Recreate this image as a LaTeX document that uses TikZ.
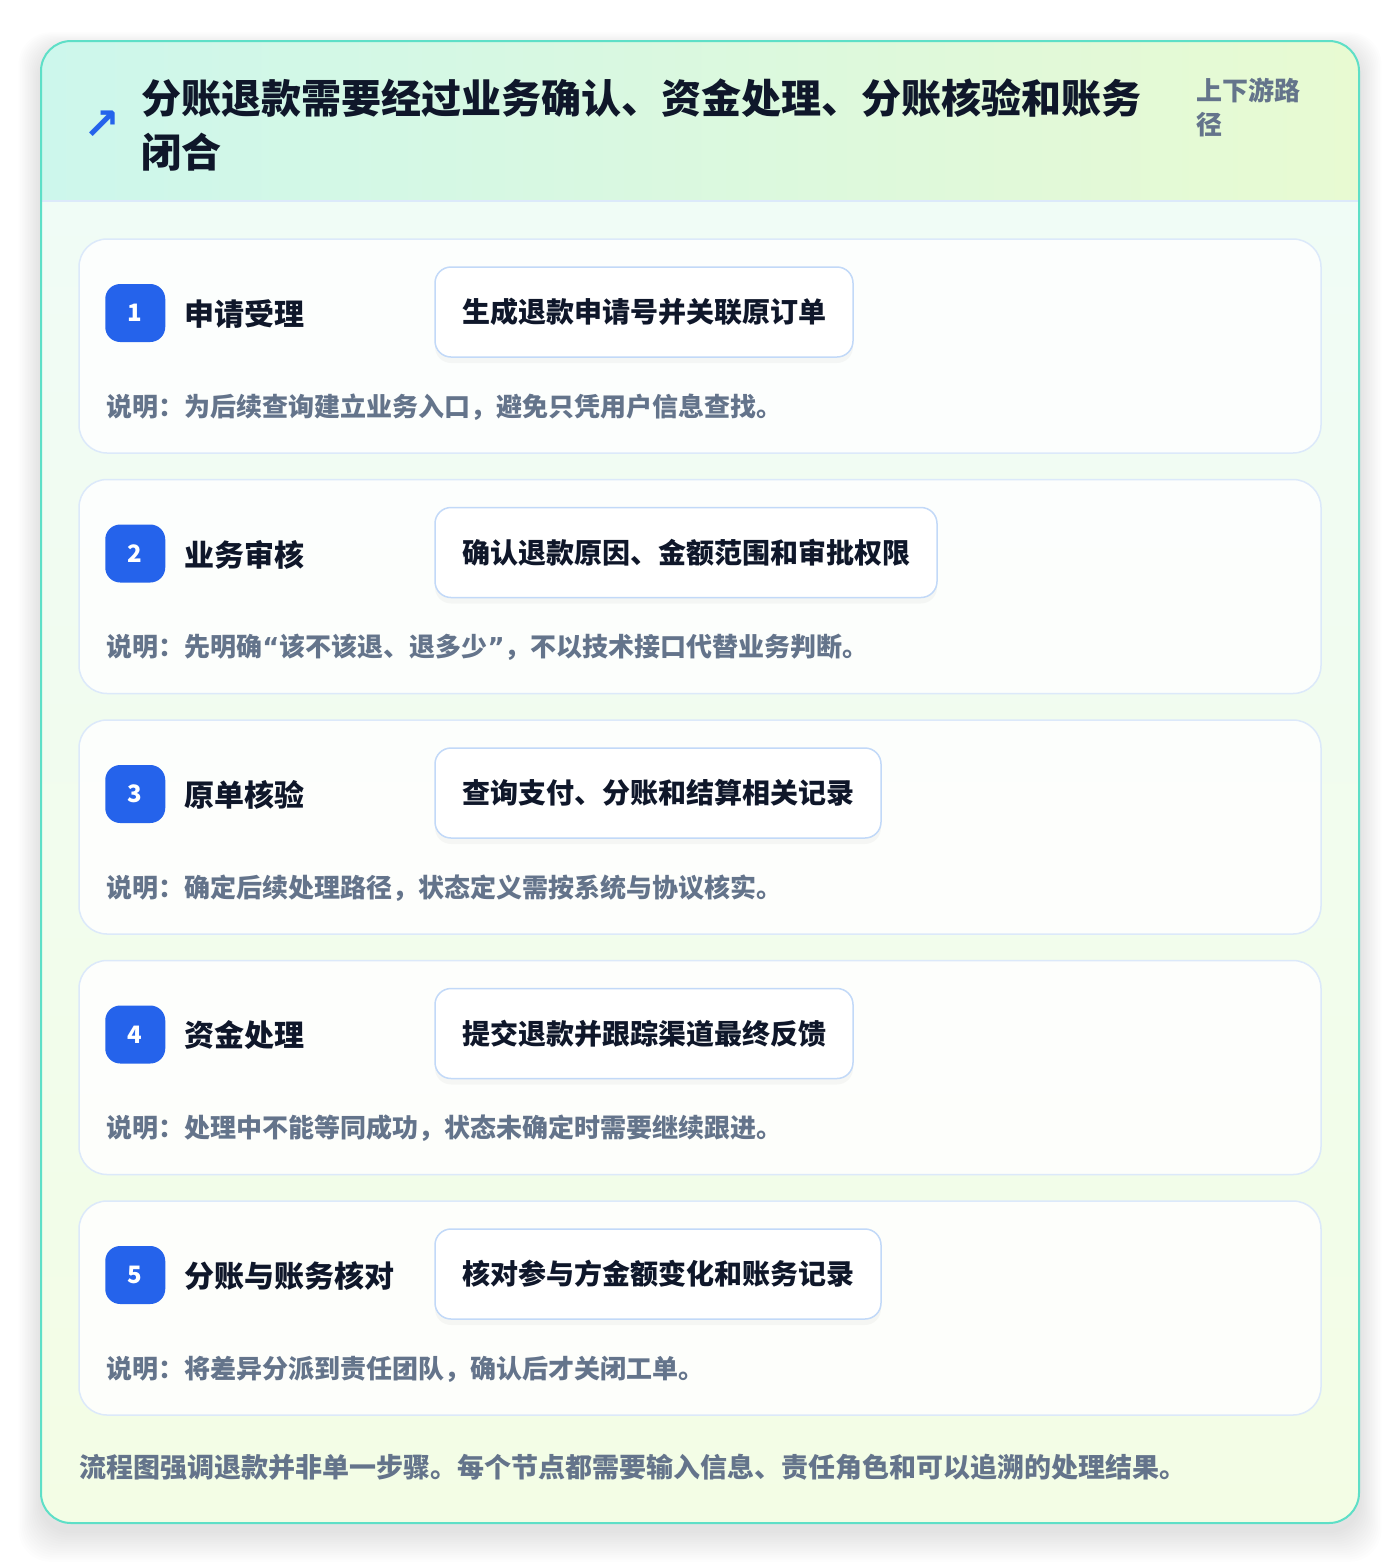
\documentclass[tikz,border=0pt]{standalone}
\usepackage{fontspec}
\setmainfont{Noto Sans CJK SC}
\newfontfamily\symfont{DejaVu Sans}
\usepackage{tikz}
\usetikzlibrary{calc}
\usetikzlibrary{positioning}
\usetikzlibrary{shadows}
\definecolor{cardedge}{HTML}{5EDFC7}
\definecolor{headleft}{HTML}{CDF7EC}
\definecolor{headright}{HTML}{E8FAD2}
\definecolor{bodytop}{HTML}{F0FCF8}
\definecolor{bodybottom}{HTML}{F3FDE5}
\definecolor{stepedge}{HTML}{DCE9FA}
\definecolor{actedge}{HTML}{C2D9F8}
\definecolor{badgeblue}{HTML}{2563EB}
\definecolor{inkdark}{HTML}{0F172A}
\definecolor{inkgray}{HTML}{64748B}
\tikzstyle{stepcard} = [draw=stepedge, line width=1.5pt, fill=white, fill opacity=0.85, text opacity=1, rounded corners=28pt, minimum width=1242pt, minimum height=214pt, inner sep=0pt]
\tikzstyle{badge} = [fill=badgeblue, rounded corners=15pt, minimum width=60pt, minimum height=58pt, text=white, font=\fontsize{24}{24}\selectfont\bfseries, inner sep=0pt]
\tikzstyle{steptitle} = [anchor=west, text=inkdark, font=\fontsize{30}{30}\selectfont\bfseries, inner sep=0pt]
\tikzstyle{actbox} = [anchor=west, draw=actedge, line width=1.5pt, fill=white, rounded corners=16pt, minimum height=90pt, inner xsep=27pt, text=inkdark, font=\fontsize{28}{28}\selectfont\bfseries, drop shadow={opacity=0.06, shadow xshift=0pt, shadow yshift=-6pt}]
\tikzstyle{notetext} = [anchor=west, text=inkgray, font=\fontsize{26}{26}\selectfont\bfseries, inner sep=0pt]

\begin{document}
\begin{tikzpicture}[x=1pt, y=-1pt]
    \useasboundingbox (0,0) rectangle (1400,1564);
    \fill[white] (0,0) rectangle (1400,1564);

    % soft shadow round the main card
    \foreach \i in {1,...,14}
        \fill[black, opacity=0.008, rounded corners=32pt] ($(41,49)-(\i*1.6,\i*1.2)$) rectangle ($(1359,1531)+(\i*1.6,\i*2.2)$);

    % main card: body, header band, border
    \shade[top color=bodytop, bottom color=bodybottom, rounded corners=30pt] (41,41) rectangle (1359,1523);
    \begin{scope}
        \clip[rounded corners=30pt] (41,41) rectangle (1359,1523);
        \shade[left color=headleft, right color=headright] (41,41) rectangle (1359,201);
    \end{scope}
    \draw[stepedge, line width=1.5pt] (41,201) -- (1359,201);
    \draw[cardedge, line width=2pt, rounded corners=30pt] (41,41) rectangle (1359,1523);

    % header texts
    \node[text=badgeblue, font=\fontsize{44}{44}\selectfont\symfont\bfseries, inner sep=0pt] (icon) at (102,125) {↗};
    \node[anchor=west, align=left, text=inkdark, font=\fontsize{40}{54}\selectfont\bfseries, inner sep=0pt] (title) at (141,125) {分账退款需要经过业务确认、资金处理、分账核验和账务\\闭合};
    \node[anchor=west, align=left, text=inkgray, font=\fontsize{26}{34}\selectfont\bfseries, inner sep=0pt] (tag) at (1196,107) {上下游路\\径};

    % step 1
    \node[stepcard] (card1) at (700,346) {};
    \node[badge] (num1) at ($(card1.west)+(57,-33)$) {1};
    \node[steptitle] (name1) at ($(card1.west)+(106,-32)$) {申请受理};
    \node[actbox] (act1) at ($(card1.west)+(356,-34)$) {生成退款申请号并关联原订单};
    \node[notetext] (note1) at ($(card1.west)+(28,61)$) {说明：为后续查询建立业务入口，避免只凭用户信息查找。};

    % step 2
    \node[stepcard, below=25pt of card1] (card2) {};
    \node[badge] (num2) at ($(card2.west)+(57,-33)$) {2};
    \node[steptitle] (name2) at ($(card2.west)+(106,-32)$) {业务审核};
    \node[actbox] (act2) at ($(card2.west)+(356,-34)$) {确认退款原因、金额范围和审批权限};
    \node[notetext] (note2) at ($(card2.west)+(28,61)$) {说明：先明确{\symfont“}该不该退、退多少{\symfont”}，不以技术接口代替业务判断。};

    % step 3
    \node[stepcard, below=25pt of card2] (card3) {};
    \node[badge] (num3) at ($(card3.west)+(57,-33)$) {3};
    \node[steptitle] (name3) at ($(card3.west)+(106,-32)$) {原单核验};
    \node[actbox] (act3) at ($(card3.west)+(356,-34)$) {查询支付、分账和结算相关记录};
    \node[notetext] (note3) at ($(card3.west)+(28,61)$) {说明：确定后续处理路径，状态定义需按系统与协议核实。};

    % step 4
    \node[stepcard, below=25pt of card3] (card4) {};
    \node[badge] (num4) at ($(card4.west)+(57,-33)$) {4};
    \node[steptitle] (name4) at ($(card4.west)+(106,-32)$) {资金处理};
    \node[actbox] (act4) at ($(card4.west)+(356,-34)$) {提交退款并跟踪渠道最终反馈};
    \node[notetext] (note4) at ($(card4.west)+(28,61)$) {说明：处理中不能等同成功，状态未确定时需要继续跟进。};

    % step 5
    \node[stepcard, below=25pt of card4] (card5) {};
    \node[badge] (num5) at ($(card5.west)+(57,-33)$) {5};
    \node[steptitle] (name5) at ($(card5.west)+(106,-32)$) {分账与账务核对};
    \node[actbox] (act5) at ($(card5.west)+(356,-34)$) {核对参与方金额变化和账务记录};
    \node[notetext] (note5) at ($(card5.west)+(28,61)$) {说明：将差异分派到责任团队，确认后才关闭工单。};

    % footer
    \node[anchor=west, text=inkgray, font=\fontsize{27}{27}\selectfont\bfseries, inner sep=0pt] (summary) at (79,1467) {流程图强调退款并非单一步骤。每个节点都需要输入信息、责任角色和可以追溯的处理结果。};
\end{tikzpicture}
\end{document}
